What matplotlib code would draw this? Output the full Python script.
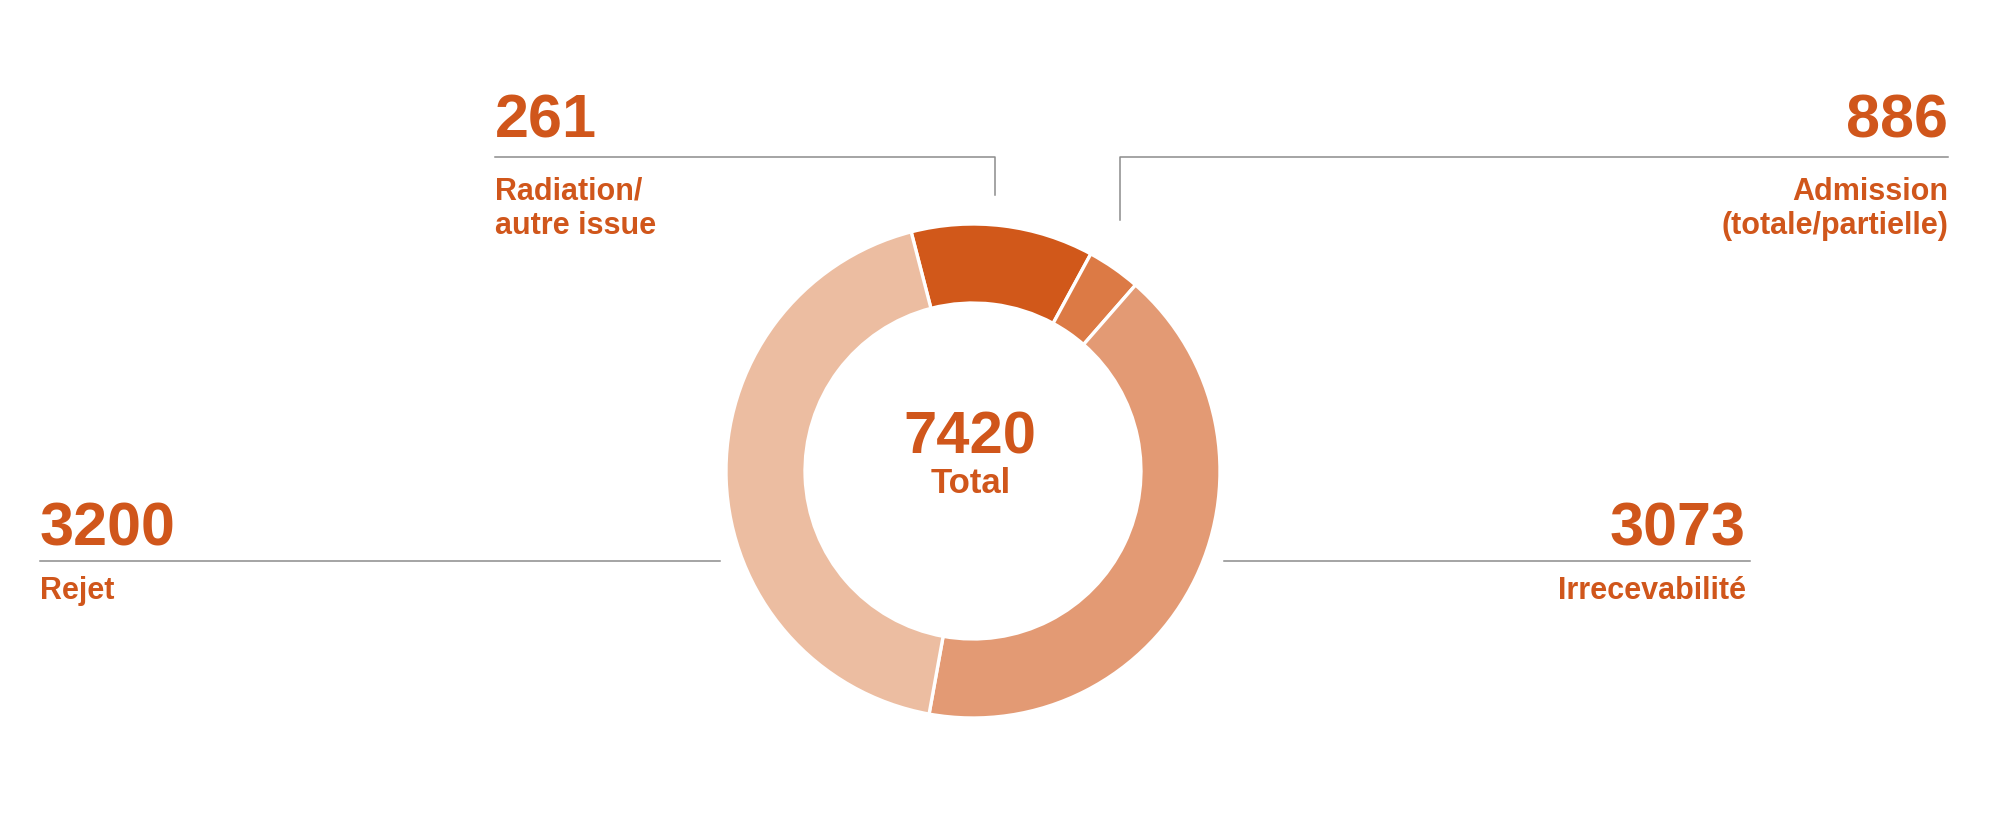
import matplotlib
matplotlib.use("Agg")
import matplotlib.pyplot as plt
from matplotlib.lines import Line2D

plt.rcParams['font.family'] = ['Liberation Sans', 'DejaVu Sans']
plt.rcParams['font.weight'] = 'bold'

# data
categories = ['Admission\n(totale/partielle)', 'Radiation/\nautre issue', 'Irrecevabilité', 'Rejet']
values = [886, 261, 3073, 3200]
colors = ['#D1581A', '#DC7A45', '#E39A74', '#ECBDA1']
total = 7420

W, H = 2004, 816
fig = plt.figure(figsize=(W / 100, H / 100), dpi=100)

def fx(px):
    return px / W

def fy(py):
    return 1 - py / H

# donut, centre (973, 471) px, outer radius 246 px
cx, cy, r = 973, 471, 247
ax = fig.add_axes([fx(cx - r), fy(cy + r), 2 * r / W, 2 * r / H])
ax.pie(values, colors=colors, startangle=104.5, counterclock=False,
       radius=1, wedgeprops=dict(width=0.32, edgecolor='white', linewidth=2.4))
ax.set_xlim(-1, 1)
ax.set_ylim(-1, 1)
ax.axis('off')

txt_col = '#D0561B'
line_col = '#8C8C8C'

fig.text(fx(cx - 3), fy(453), f'{total}', ha='center', va='baseline',
         fontsize=43, color=txt_col)
fig.text(fx(cx - 2), fy(493), 'Total', ha='center', va='baseline',
         fontsize=25, color=txt_col)

# (value index, x, anchor, leader line points, number baseline, label top)
layout = [
    (1, 495, 'left', [(495, 157), (995, 157), (995, 195)], 138, 177),
    (0, 1948, 'right', [(1948, 157), (1120, 157), (1120, 220)], 138, 177),
    (3, 40, 'left', [(40, 561), (720, 561)], 545, 576),
    (2, 1746, 'right', [(1750, 561), (1224, 561)], 545, 576),
]

for i, x, ha, pts, base_y, lab_y in layout:
    fig.text(fx(x), fy(base_y), f'{values[i]}', ha=ha, va='baseline',
             fontsize=44, color=txt_col)
    fig.text(fx(x), fy(lab_y), categories[i], ha=ha, va='top',
             fontsize=22, color=txt_col, linespacing=1.18, multialignment=ha)
    xs = [fx(p[0]) for p in pts]
    ys = [fy(p[1]) for p in pts]
    fig.add_artist(Line2D(xs, ys, color=line_col, linewidth=1.1))

fig.savefig('out.png', dpi=100, facecolor='white')
